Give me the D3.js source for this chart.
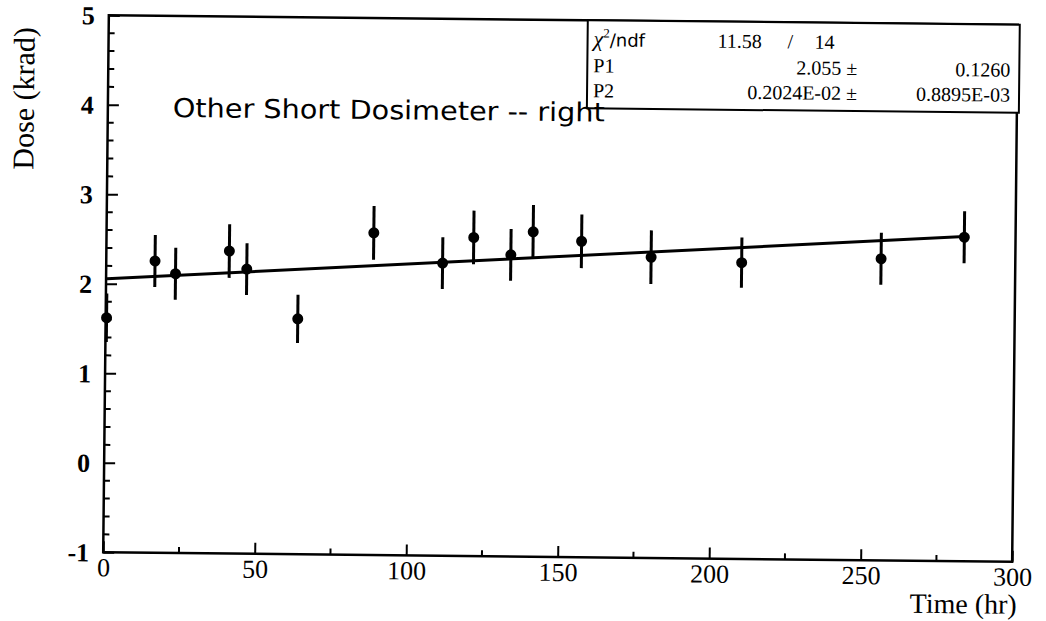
<!DOCTYPE html>
<html>
<head>
<meta charset="utf-8">
<script src="https://cdn.jsdelivr.net/npm/d3@7"></script>
<style>
  html, body { margin: 0; padding: 0; background: #fff; }
  svg text { fill: #000; }
</style>
</head>
<body>
<svg id="chart" width="1046" height="621"></svg>
<script>
// Dosimeter readings: elapsed time (hr), dose (krad) and its error
const timeHr = [0.3, 16.1, 22.9, 40.6, 46.4, 63.4, 88.2, 111.0, 121.2, 133.5, 140.8, 156.8, 179.8, 209.7, 255.7, 283.1];
const doseKrad = [1.62, 2.26, 2.12, 2.38, 2.18, 1.63, 2.60, 2.27, 2.56, 2.37, 2.63, 2.53, 2.36, 2.31, 2.37, 2.62];
const doseErr = [0.27, 0.29, 0.29, 0.30, 0.29, 0.27, 0.30, 0.29, 0.30, 0.29, 0.30, 0.30, 0.30, 0.28, 0.29, 0.29];

// Linear fit  dose = P1 + P2 * t
const fitP1 = 2.055, fitP1Err = 0.1260;
const fitP2 = 0.2024e-02, fitP2Err = 0.8895e-03;
const chi2 = 11.58, ndf = 14;

const xTicks = [0, 50, 100, 150, 200, 250, 300];
const yTicks = [-1, 0, 1, 2, 3, 4, 5];

const svg = d3.select("#chart");
const frame = { left: 106, top: 20, right: 1015, bottom: 557 };

const x = d3.scaleLinear().domain([0, 300]).range([frame.left, frame.right]);
const y = d3.scaleLinear().domain([-1, 5]).range([frame.bottom, frame.top]);

const serif = "'Liberation Serif', 'Times New Roman', serif";
const sans = "'DejaVu Sans', sans-serif";

// the printed page sits slightly skewed on the scanner bed
const g = svg.append("g").attr("transform", "rotate(0.6, 560, 288)");

// minor ticks (inward)
const xMinor = d3.range(25, 300, 50);
const yMinor = d3.range(-1, 5.001, 0.2).filter(v => Math.abs(v - Math.round(v)) > 1e-6);

g.append("g").selectAll("line").data(xMinor).join("line")
  .attr("x1", d => x(d)).attr("x2", d => x(d))
  .attr("y1", frame.bottom).attr("y2", frame.bottom - 6)
  .attr("stroke", "#000").attr("stroke-width", 2);
g.append("g").selectAll("line").data(yMinor).join("line")
  .attr("x1", frame.left).attr("x2", frame.left + 6)
  .attr("y1", d => y(d)).attr("y2", d => y(d))
  .attr("stroke", "#000").attr("stroke-width", 2);

// bottom axis
const xAxis = d3.axisBottom(x).tickValues(xTicks).tickSize(-11)
  .tickFormat(d => String(d));
const gx = g.append("g").attr("transform", `translate(0,${frame.bottom})`).call(xAxis);
gx.select(".domain").remove();
gx.selectAll(".tick line").attr("stroke", "#000").attr("stroke-width", 2);
gx.selectAll(".tick text").attr("font-family", serif).attr("font-size", 26)
  .attr("y", 24).attr("dy", "0");

// left axis
const yAxis = d3.axisLeft(y).tickValues(yTicks).tickSize(-11)
  .tickFormat(d => String(d));
const gy = g.append("g").attr("transform", `translate(${frame.left},0)`).call(yAxis);
gy.select(".domain").remove();
gy.selectAll(".tick line").attr("stroke", "#000").attr("stroke-width", 2);
gy.selectAll(".tick text").attr("font-family", serif).attr("font-size", 26)
  .attr("font-weight", "bold").attr("x", -14).attr("dy", "0.34em");

// frame
g.append("rect")
  .attr("x", frame.left).attr("y", frame.top)
  .attr("width", frame.right - frame.left).attr("height", frame.bottom - frame.top)
  .attr("fill", "none").attr("stroke", "#000").attr("stroke-width", 2.5);

// axis titles
g.append("text")
  .attr("transform", `translate(32,104) rotate(-90)`)
  .attr("text-anchor", "middle")
  .attr("font-family", serif).attr("font-size", 30)
  .text("Dose (krad)");
g.append("text")
  .attr("x", frame.right + 5).attr("y", 609)
  .attr("text-anchor", "end")
  .attr("font-family", serif).attr("font-size", 28)
  .text("Time (hr)");

// fit line over the data range
const tRange = d3.extent(timeHr);
g.append("line")
  .attr("x1", x(tRange[0])).attr("y1", y(fitP1 + fitP2 * tRange[0]))
  .attr("x2", x(tRange[1])).attr("y2", y(fitP1 + fitP2 * tRange[1]))
  .attr("stroke", "#000").attr("stroke-width", 3);

// error bars and markers
const pts = timeHr.map((t, i) => ({ t, v: doseKrad[i], e: doseErr[i] }));
g.append("g").selectAll("line").data(pts).join("line")
  .attr("x1", d => x(d.t)).attr("x2", d => x(d.t))
  .attr("y1", d => y(d.v - d.e)).attr("y2", d => y(d.v + d.e))
  .attr("stroke", "#000").attr("stroke-width", 3);
g.append("g").selectAll("circle").data(pts).join("circle")
  .attr("cx", d => x(d.t)).attr("cy", d => y(d.v)).attr("r", 5.5)
  .attr("fill", "#000");

// stats box
const box = { x0: 585, x1: 1017, y0: frame.top, y1: 108 };
g.append("rect")
  .attr("x", box.x0).attr("y", box.y0)
  .attr("width", box.x1 - box.x0).attr("height", box.y1 - box.y0)
  .attr("fill", "#fff").attr("stroke", "#000").attr("stroke-width", 2);

// annotation
g.append("text")
  .attr("x", 171).attr("y", 121)
  .attr("font-family", sans).attr("font-size", 26)
  .attr("textLength", 432).attr("lengthAdjust", "spacingAndGlyphs")
  .text("Other Short Dosimeter -- right");

const fs = 20;
const chiY = box.y0 + 26;
const chiRow = g.append("text").attr("x", 591).attr("y", chiY)
  .attr("font-size", fs + 2).attr("font-family", serif);
chiRow.append("tspan").attr("font-style", "italic").text("χ");
chiRow.append("tspan").attr("font-size", 13).attr("dy", -9).text("2");
chiRow.append("tspan").attr("dy", 9).attr("font-family", sans)
  .attr("font-size", fs - 2).text("/ndf");
g.append("text").attr("x", 715).attr("y", chiY).attr("font-family", serif)
  .attr("font-size", fs).text(chi2.toFixed(2));
g.append("text").attr("x", 785).attr("y", chiY).attr("font-family", serif)
  .attr("font-size", fs).text("/");
g.append("text").attr("x", 812).attr("y", chiY).attr("font-family", serif)
  .attr("font-size", fs).text(String(ndf));

// FORTRAN-style mantissa/exponent: 0.dddd E-ee
const fmtE = (v) => {
  const exp = Math.floor(Math.log10(Math.abs(v))) + 1;
  const mant = v / Math.pow(10, exp);
  const sign = exp < 0 ? "-" : "+";
  return `${mant.toFixed(4)}E${sign}${String(Math.abs(exp)).padStart(2, "0")}`;
};

const rows = [
  { name: "P1", val: fitP1.toFixed(3), err: fitP1Err.toFixed(4), dy: 52 },
  { name: "P2", val: fmtE(fitP2), err: fmtE(fitP2Err), dy: 77 }
];
rows.forEach(r => {
  g.append("text").attr("x", 591).attr("y", box.y0 + r.dy).attr("font-family", serif)
    .attr("font-size", fs).text(r.name);
  g.append("text").attr("x", 855).attr("y", box.y0 + r.dy).attr("font-family", serif)
    .attr("text-anchor", "end").attr("font-size", fs).text(`${r.val} ±`);
  g.append("text").attr("x", 1008).attr("y", box.y0 + r.dy).attr("font-family", serif)
    .attr("text-anchor", "end").attr("font-size", fs).text(r.err);
});
</script>
</body>
</html>
